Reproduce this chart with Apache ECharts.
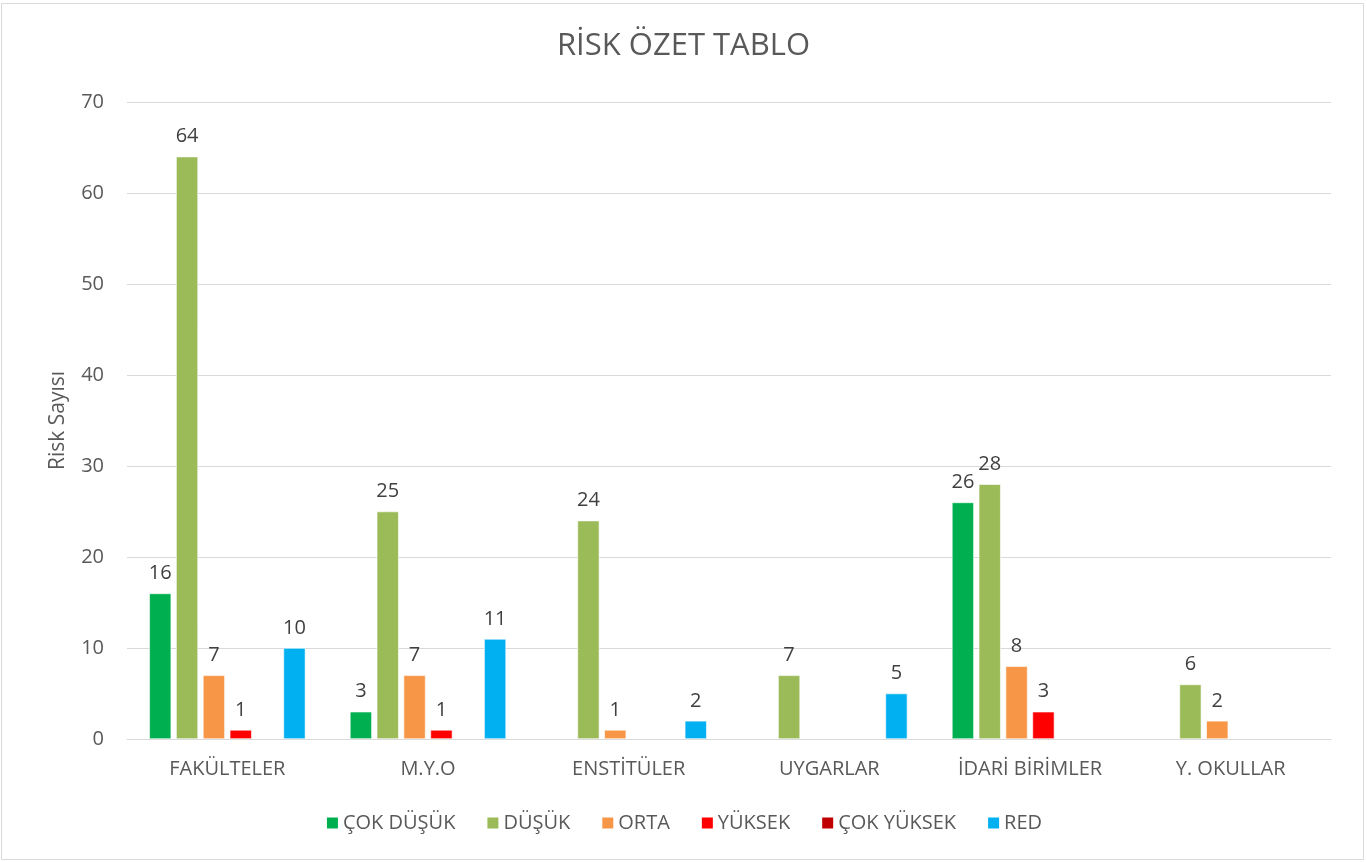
<!DOCTYPE html>
<html>
<head>
<meta charset="utf-8">
<script src="https://cdn.jsdelivr.net/npm/echarts@6/dist/echarts.min.js"></script>
<style>
html,body{margin:0;padding:0;background:#fff;}
#chart{width:1367px;height:862px;}
</style>
</head>
<body>
<div id="chart"></div>
<script>
const categories = ['FAKÜLTELER', 'M.Y.O', 'ENSTİTÜLER', 'UYGARLAR', 'İDARİ BİRİMLER', 'Y. OKULLAR'];
const seriesNames = ['ÇOK DÜŞÜK', 'DÜŞÜK', 'ORTA', 'YÜKSEK', 'ÇOK YÜKSEK', 'RED'];
const cokDusuk = [16, 3, null, null, 26, null];
const dusuk = [64, 25, 24, 7, 28, 6];
const orta = [7, 7, 1, null, 8, 2];
const yuksek = [1, 1, null, null, 3, null];
const cokYuksek = [null, null, null, null, null, null];
const red = [10, 11, 2, 5, null, null];
const yTicks = [0, 10, 20, 30, 40, 50, 60, 70];

const colors = ['#00B050', '#9BBB59', '#F79646', '#FF0000', '#C00000', '#00B0F0'];
const values = [cokDusuk, dusuk, orta, yuksek, cokYuksek, red];
const font = '"Open Sans", "Liberation Sans", sans-serif';

const chart = echarts.init(document.getElementById('chart'));
chart.setOption({
  animation: false,
  color: colors,
  title: {
    text: 'RİSK ÖZET TABLO',
    left: 'center',
    top: 26,
    textStyle: {fontFamily: font, fontSize: 31, fontWeight: 'normal', color: '#595959'}
  },
  graphic: [{
    type: 'rect',
    shape: {x: 1.5, y: 3.5, width: 1362, height: 856},
    style: {fill: 'none', stroke: '#d9d9d9', lineWidth: 1},
    silent: true
  }],
  legend: {
    bottom: 24,
    left: 'center',
    itemWidth: 13,
    itemHeight: 13,
    itemGap: 30,
    icon: 'rect',
    textStyle: {fontFamily: font, fontSize: 20, color: '#595959', padding: [0, 0, 0, -1]},
    data: seriesNames
  },
  grid: {left: 127, right: 36, top: 102, bottom: 123, containLabel: false},
  xAxis: {
    type: 'category',
    data: categories,
    axisLine: {lineStyle: {color: '#d9d9d9', width: 1}},
    axisTick: {show: false},
    axisLabel: {fontFamily: font, fontSize: 20, color: '#595959', margin: 20}
  },
  yAxis: {
    type: 'value',
    min: 0,
    max: 70,
    interval: 10,
    name: 'Risk Sayısı',
    nameLocation: 'middle',
    nameGap: 58,
    nameTextStyle: {fontFamily: font, fontSize: 21, color: '#595959'},
    axisLine: {show: false},
    axisTick: {show: false},
    splitLine: {lineStyle: {color: '#d9d9d9', width: 1}},
    axisLabel: {
      fontFamily: font, fontSize: 20, color: '#595959', margin: 23,
      formatter: v => yTicks.includes(v) ? String(v) : ''
    }
  },
  series: seriesNames.map((name, i) => ({
    name: name,
    type: 'bar',
    data: values[i],
    barWidth: 22,
    barGap: '22%',
    itemStyle: {color: colors[i], borderColor: '#ffffff', borderWidth: 0.6},
    label: {
      show: true,
      position: 'top',
      distance: 10,
      fontFamily: font,
      fontSize: 20,
      color: '#404040'
    }
  }))
});
</script>
</body>
</html>
